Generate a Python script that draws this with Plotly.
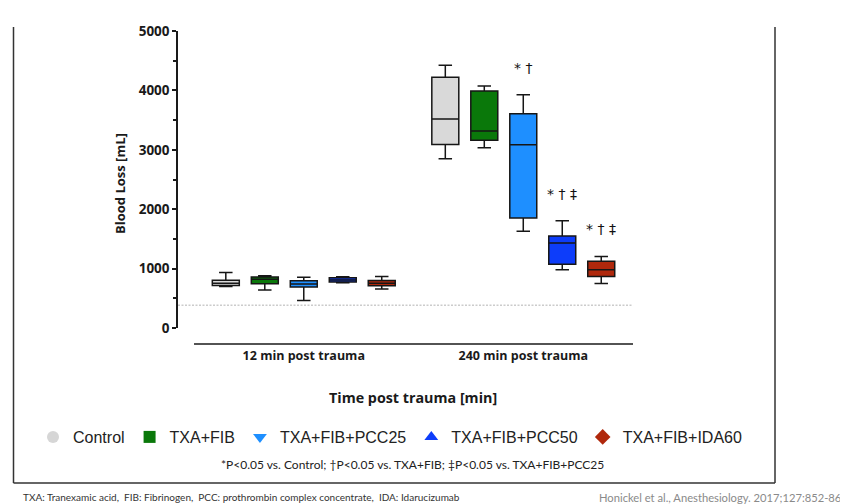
import plotly.graph_objects as go

# ---------------- data ----------------
TIMEPOINTS = ["12 min post trauma", "240 min post trauma"]
GROUPS = ["Control", "TXA+FIB", "TXA+FIB+PCC25", "TXA+FIB+PCC50", "TXA+FIB+IDA60"]

# per group: [12 min, 240 min]
LOWER = [[700, 2850], [640, 3035], [465, 1630], [760, 980], [655, 750]]
Q1 = [[715, 3090], [745, 3160], [690, 1850], [775, 1075], [712, 867]]
MEDIAN = [[755, 3520], [820, 3315], [740, 3085], [810, 1430], [755, 980]]
Q3 = [[805, 4220], [860, 3990], [795, 3605], [845, 1550], [800, 1125]]
UPPER = [[935, 4425], [880, 4075], [855, 3925], [862, 1805], [865, 1205]]

SIG_240 = ["", "", "* †", "* † ‡", "* † ‡"]
BASELINE = 385
Y_TICKS = [0, 1000, 2000, 3000, 4000, 5000]
Y_MINOR = [500, 1500, 2500, 3500, 4500]

NOTE = "*P<0.05 vs. Control; †P<0.05 vs. TXA+FIB; ‡P<0.05 vs. TXA+FIB+PCC25"
FOOT_LEFT = "TXA: Tranexamic acid,  FIB: Fibrinogen,  PCC: prothrombin complex concentrate,  IDA: Idarucizumab"
FOOT_RIGHT = "Honickel et al., Anesthesiology. 2017;127:852-86"

# ---------------- style ----------------
FILLS = ["#d9d9d9", "#0a780a", "#1e8fff", "#0d3dfa", "#b0280c"]
SYMBOLS = ["circle", "square", "triangle-down", "triangle-up", "diamond"]
LEG_COLORS = ["#d6d6d6", "#0a780a", "#1e8fff", "#0d3dfa", "#b0280c"]

OFF = 8  # page body margin
W, H = 840, 496
L, T = 170, 23
PW, PH = 622, 297
R = W - L - PW
B = H - T - PH
XRANGE = [-0.573, -0.573 + PW / 219.5]


def px(x):
    return (x - OFF - L) / PW


def py(y):
    return (T + PH - (y - OFF)) / PH


BOXGAP = 0.112
BOXGROUPGAP = 0.308
N = len(GROUPS)

fig = go.Figure()
for i, g in enumerate(GROUPS):
    fig.add_trace(go.Box(
        x=TIMEPOINTS, lowerfence=LOWER[i], q1=Q1[i], median=MEDIAN[i],
        q3=Q3[i], upperfence=UPPER[i], name=g, fillcolor=FILLS[i],
        line=dict(color="#161616", width=1.5), whiskerwidth=0.5,
        showlegend=False, hoverinfo="skip", boxpoints=False,
    ))

for i, g in enumerate(GROUPS):
    fig.add_trace(go.Scatter(
        x=[None], y=[None], mode="markers", name=g,
        marker=dict(symbol=SYMBOLS[i], color=LEG_COLORS[i], size=12,
                    line=dict(width=0)),
    ))

annotations = []
for i, s in enumerate(SIG_240):
    if s:
        xoff = (1 - BOXGAP) * (-0.5 + (i + 0.5) / N)
        annotations.append(dict(
            x=1 + xoff, y=UPPER[i][1], xref="x", yref="y", text=s,
            showarrow=False, yanchor="bottom", yshift=17,
            font=dict(family="DejaVu Sans", size=14, color="#111111"),
        ))

annotations += [
    dict(x=px(120), y=py(184), xref="paper", yref="paper", text="Blood Loss [mL]",
         textangle=-90, showarrow=False, xanchor="center", yanchor="middle",
         font=dict(family="Open Sans", size=13, color="#1a1a1a", weight="bold")),
    dict(x=px(413), y=py(397), xref="paper", yref="paper", text="Time post trauma [min]",
         showarrow=False, xanchor="center", yanchor="middle",
         font=dict(family="Open Sans", size=14.3, color="#1a1a1a", weight="bold")),
    dict(x=px(412), y=py(464), xref="paper", yref="paper", text=NOTE,
         showarrow=False, xanchor="center", yanchor="middle",
         font=dict(family="Lato", size=12, color="#222222")),
    dict(x=px(21), y=py(497), xref="paper", yref="paper", text=FOOT_LEFT,
         showarrow=False, xanchor="left", yanchor="middle",
         font=dict(family="Lato", size=10, color="#333333")),
    dict(x=px(843), y=py(497), xref="paper", yref="paper", text=FOOT_RIGHT,
         showarrow=False, xanchor="right", yanchor="middle",
         font=dict(family="Lato", size=11.2, color="#8a8a8a")),
]

shapes = [
    # baseline dotted line
    dict(type="line", xref="x", yref="y", x0=XRANGE[0], x1=1.5, y0=BASELINE, y1=BASELINE,
         line=dict(color="#cccccc", width=1.5, dash="2px,1.5px"), layer="below"),
    # detached x axis line
    dict(type="line", xref="x", yref="paper", x0=-0.5, x1=1.5, y0=py(344), y1=py(344),
         line=dict(color="#1a1a1a", width=1.5)),
    # frame
    dict(type="line", xref="paper", yref="paper", x0=px(13.5), x1=px(13.5),
         y0=py(27), y1=py(483), line=dict(color="#333333", width=1.5)),
    dict(type="line", xref="paper", yref="paper", x0=px(775), x1=px(775),
         y0=py(27), y1=py(483), line=dict(color="#333333", width=1.5)),
    dict(type="line", xref="paper", yref="paper", x0=px(13.5), x1=px(775),
         y0=py(483), y1=py(483), line=dict(color="#333333", width=1.5)),
]

fig.update_layout(
    width=W, height=H,
    margin=dict(l=L, r=R, t=T, b=B, autoexpand=False),
    paper_bgcolor="white", plot_bgcolor="white",
    boxmode="group", boxgap=BOXGAP, boxgroupgap=BOXGROUPGAP,
    annotations=annotations, shapes=shapes,
    legend=dict(orientation="h", x=px(33), y=py(437), xanchor="left", yanchor="middle",
                font=dict(family="Liberation Sans", size=16, color="#222222"),
                bgcolor="rgba(0,0,0,0)", itemclick=False, itemdoubleclick=False),
    xaxis=dict(type="category", range=XRANGE, showline=False, showgrid=False,
               zeroline=False, ticks="outside", ticklen=16, tickcolor="rgba(0,0,0,0)",
               tickfont=dict(family="Open Sans", size=12.5, color="#1a1a1a", weight="bold"),
               fixedrange=True),
    yaxis=dict(range=[0, 5000], showline=True, linecolor="#1a1a1a", linewidth=1.5,
               showgrid=False, zeroline=False, ticks="outside", ticklen=4, tickwidth=1.5,
               tickcolor="#1a1a1a", tickvals=Y_TICKS,
               tickfont=dict(family="Open Sans", size=13.5, color="#1a1a1a", weight="bold"),
               minor=dict(tickvals=Y_MINOR, ticks="outside", ticklen=3, tickwidth=1.5,
                          tickcolor="#1a1a1a", showgrid=False),
               fixedrange=True),
    showlegend=True,
)

fig.write_html("out.html")
